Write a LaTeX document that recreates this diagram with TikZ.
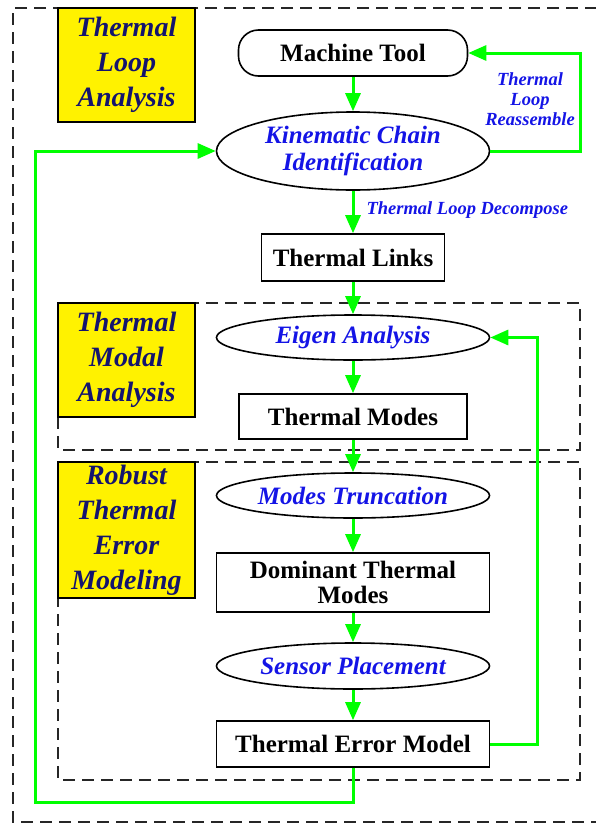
\documentclass[tikz,border=0pt]{standalone}
\usepackage{fontspec}
\setmainfont{Liberation Serif}
\usetikzlibrary{arrows.meta,shapes.geometric}
\definecolor{navy}{RGB}{20,20,110}
\definecolor{tblue}{RGB}{20,20,230}
\definecolor{gr}{RGB}{0,255,0}
\begin{document}
\begin{tikzpicture}[x=1pt,y=-1pt,
 box/.style={draw=black,line width=1.6pt,fill=white,font=\fontsize{25}{25}\selectfont\bfseries,inner sep=0pt,align=center},
 ell/.style={ellipse,draw=black,line width=1.6pt,fill=white,inner sep=0pt,font=\fontsize{25}{27}\selectfont\bfseries\itshape,text=tblue,align=center},
 tag/.style={draw=black,line width=1.6pt,fill=yellow,inner sep=0pt,font=\fontsize{28}{35}\selectfont\bfseries\itshape,text=navy,align=center,minimum width=137pt},
 flow/.style={draw=gr,line width=3pt,-{Triangle[length=18pt,width=15pt]}},
 frame/.style={draw=black!85,line width=1.5pt,dash pattern=on 12pt off 7pt},
 lbl/.style={font=\fontsize{18.5}{20}\selectfont\bfseries\itshape,text=tblue,align=center}]
\useasboundingbox (0,0) rectangle (595,825);
% frames
\draw[frame] (597,8) -- (13,8) -- (13,822) -- (597,822);
\draw[frame] (58,303) rectangle (580,450);
\draw[frame] (58,462) rectangle (580,780);
% tags
\node[tag,minimum height=114pt] (t1) at (126.5,65) {Thermal\\Loop\\Analysis};
\node[tag,minimum height=114pt] (t2) at (126.5,360) {Thermal\\Modal\\Analysis};
\node[tag,minimum height=136pt] (t3) at (126.5,530) {Robust\\Thermal\\Error\\Modeling};
% main nodes
\node[box,rounded corners=20pt,minimum width=229pt,minimum height=46pt] (mt) at (353,53) {Machine Tool};
\node[ell,minimum width=273pt,minimum height=78pt] (kc) at (353,151) {Kinematic Chain\\Identification};
\node[box,minimum width=183pt,minimum height=47pt] (tl) at (353,257.5) {Thermal Links};
\node[ell,minimum width=273pt,minimum height=45pt] (ea) at (353,337.5) {Eigen Analysis};
\node[box,minimum width=228pt,minimum height=45pt] (tm) at (353,416.5) {Thermal Modes};
\node[ell,minimum width=273pt,minimum height=45pt] (mtr) at (353,495.5) {Modes Truncation};
\node[box,minimum width=273pt,minimum height=59pt] (dtm) at (353,582.5) {Dominant Thermal\\Modes};
\node[ell,minimum width=273pt,minimum height=46pt] (sp) at (353,666) {Sensor Placement};
\node[box,minimum width=273pt,minimum height=46pt] (tem) at (353,744) {Thermal Error Model};
% labels
\node[lbl,anchor=west] (dec) at (363,210) {Thermal Loop Decompose};
\node[lbl] (reas) at (530,99) {Thermal\\Loop\\Reassemble};
% connectors
\draw[flow] (mt) -- (kc);
\draw[flow] (kc) -- (tl);
\draw[flow] (tl) -- (ea);
\draw[flow] (ea) -- (tm);
\draw[flow] (tm) -- (mtr);
\draw[flow] (mtr) -- (dtm);
\draw[flow] (dtm) -- (sp);
\draw[flow] (sp) -- (tem);
\coordinate (r1) at (580,151);
\draw[flow] (kc.east) -- (r1) |- (mt.east);
\coordinate (r2) at (537,744);
\draw[flow] (tem.east) -- (r2) |- (ea.east);
\coordinate (b1) at (353,802);
\coordinate (l1) at (35,802);
\draw[flow] (tem.south) -- (b1) -- (l1) |- (kc.west);
\end{tikzpicture}
\end{document}
